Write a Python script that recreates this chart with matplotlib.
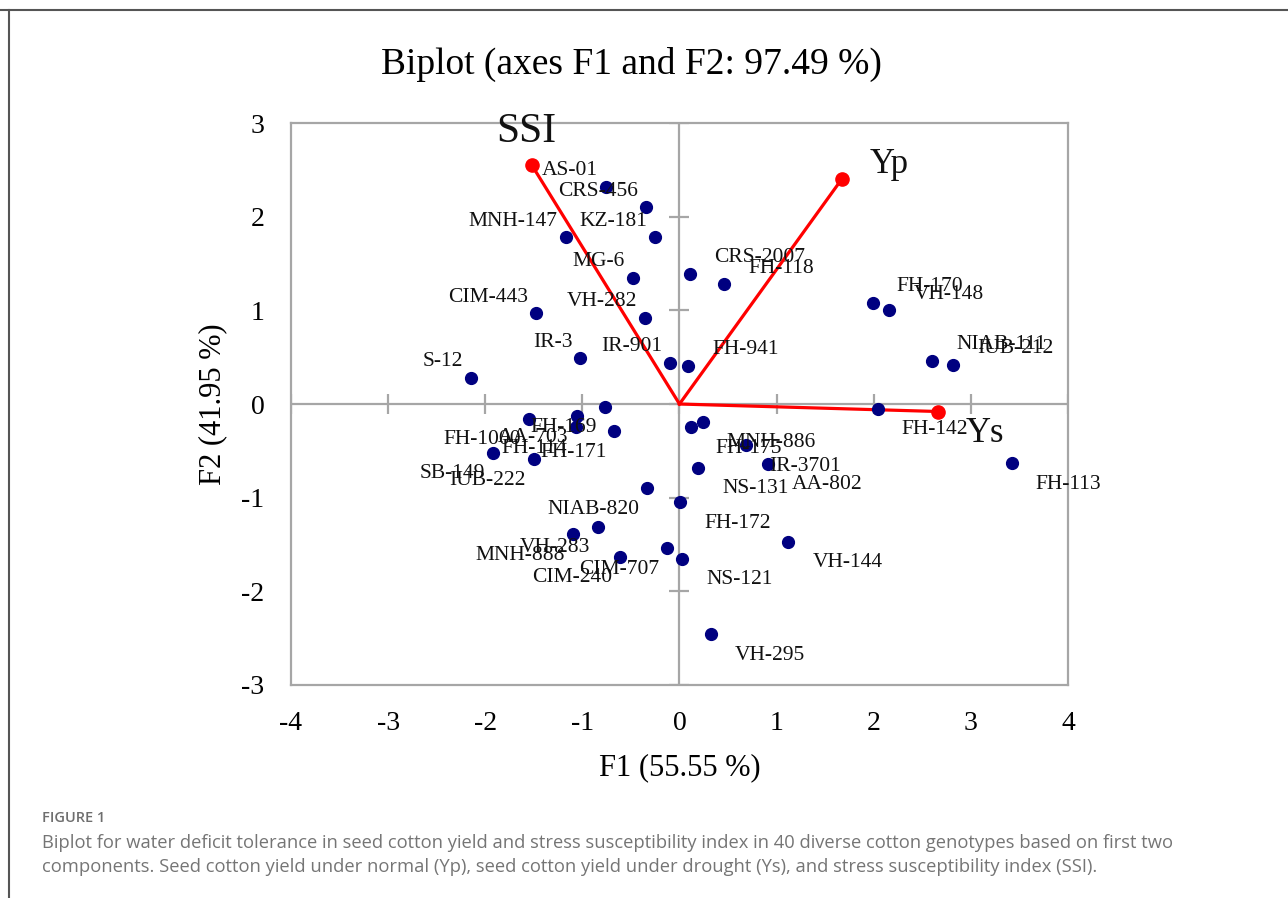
import matplotlib
matplotlib.use('Agg')
from matplotlib import pyplot as plt
from matplotlib.lines import Line2D

plt.rcParams['axes.unicode_minus'] = False

# genotype scores on F1 / F2
genotypes = ['AS-01', 'CRS-456', 'MNH-147', 'KZ-181', 'MG-6', 'CIM-443', 'VH-282',
             'IR-3', 'IR-901', 'S-12',
             'FH-941', 'CRS-2007', 'FH-118', 'FH-170', 'VH-148', 'NIAB-111', 'IUB-212',
             'FH-169', 'FH-171', 'AA-703', 'FH-114', 'FH-1000', 'SB-149', 'IUB-222',
             'NIAB-820', 'VH-283', 'MNH-888', 'CIM-707', 'CIM-240',
             'FH-172', 'NS-121', 'VH-295', 'VH-144', 'MNH-886', 'FH-175', 'IR-3701',
             'NS-131', 'AA-802', 'FH-142', 'FH-113']
f1 = [-0.76, -0.34, -1.17, -0.25, -0.48, -1.48, -0.35, -1.02, -0.10, -2.15,
      0.09, 0.11, 0.46, 1.99, 2.16, 2.60, 2.82,
      -0.77, -0.67, -1.06, -1.07, -1.55, -1.92, -1.50, -0.33, -0.84, -1.10, -0.13, -0.61,
      0.01, 0.03, 0.32, 1.12, 0.24, 0.12, 0.68, 0.19, 0.91, 2.04, 3.42]
f2 = [2.32, 2.10, 1.78, 1.78, 1.35, 0.97, 0.92, 0.49, 0.44, 0.28,
      0.41, 1.39, 1.28, 1.08, 1.00, 0.46, 0.42,
      -0.03, -0.29, -0.13, -0.25, -0.16, -0.52, -0.59, -0.90, -1.31, -1.39, -1.54, -1.63,
      -1.05, -1.65, -2.46, -1.47, -0.19, -0.25, -0.44, -0.68, -0.64, -0.05, -0.63]

# variable loadings (vectors)
variables = ['SSI', 'Yp', 'Ys']
var_f1 = [-1.52, 1.67, 2.66]
var_f2 = [2.55, 2.40, -0.08]

ticks = [-4, -3, -2, -1, 0, 1, 2, 3, 4]
yticks = [-3, -2, -1, 0, 1, 2, 3]

serif = ['Liberation Serif', 'DejaVu Serif']
gray = '#a6a6a6'

fig = plt.figure(figsize=(12.88, 8.98), dpi=100)
ax = fig.add_axes([0.2259, 0.2372, 0.6033, 0.6258])

# center lines with cross ticks
ax.axhline(0, color=gray, lw=1.6, zorder=1)
ax.axvline(0, color=gray, lw=1.6, zorder=1)
ax.plot(ticks, [0] * len(ticks), ls='none', marker='|', ms=15, mew=1.6, color=gray, zorder=1)
ax.plot([0] * len(yticks), yticks, ls='none', marker='_', ms=15, mew=1.6, color=gray, zorder=1)

# vectors
for name, vx, vy in zip(variables, var_f1, var_f2):
    ax.plot([0, vx], [0, vy], color='#ff0000', lw=2.3, zorder=2)
ax.plot(var_f1, var_f2, 'o', color='#ff0000', ms=9.5, zorder=3)

# genotype points
ax.plot(f1, f2, 'o', color='#000080', ms=8.5, zorder=4)

for name, x, y in zip(genotypes, f1, f2):
    if x < 0:
        dx, ha = -8, 'right'
    else:
        dx, ha = 24, 'left'
    dy = 16 if y >= 0 else -21
    ax.annotate(name, (x, y), xytext=(dx, dy), textcoords='offset pixels',
                ha=ha, va='center', fontsize=15.5, family=serif, color='#111111', zorder=5)

var_off = [(-6, 14, 'center', 'bottom', 30), (28, 15, 'left', 'center', 25),
           (28, -22, 'left', 'center', 25)]
for name, x, y, (dx, dy, ha, va, fs) in zip(variables, var_f1, var_f2, var_off):
    ax.annotate(name, (x, y), xytext=(dx, dy), textcoords='offset pixels',
                ha=ha, va=va, fontsize=fs, family=serif, color='#111111', zorder=5)

ax.set_xlim(-4, 4)
ax.set_ylim(-3, 3)
ax.set_xticks(ticks)
ax.set_yticks(yticks)
ax.tick_params(length=0, labelsize=20, pad=19)
for lab in ax.get_xticklabels() + ax.get_yticklabels():
    lab.set_family(serif)
for sp in ax.spines.values():
    sp.set_color(gray)
    sp.set_linewidth(1.6)

ax.set_xlabel('F1 (55.55 %)', fontsize=22, family=serif, labelpad=12)
ax.set_ylabel('F2 (41.95 %)', fontsize=22, family=serif, labelpad=10)
fig.text(0.49, 0.928, 'Biplot (axes F1 and F2: 97.49 %)', ha='center', va='center',
         fontsize=27, family=serif)

# page frame
fig.add_artist(Line2D([0, 1], [1 - 10 / 898, 1 - 10 / 898], transform=fig.transFigure,
                      color='#555555', lw=1.5))
fig.add_artist(Line2D([9 / 1288, 9 / 1288], [0, 1 - 10 / 898], transform=fig.transFigure,
                      color='#555555', lw=1.5))

# caption
fig.text(42 / 1288, 1 - 818 / 898, 'FIGURE 1', fontsize=10.5, family='Open Sans',
         color='#6e6e6e', va='center', fontweight='semibold')
fig.text(42 / 1288, 1 - 843 / 898,
         'Biplot for water deficit tolerance in seed cotton yield and stress susceptibility index in 40 diverse cotton genotypes based on first two',
         fontsize=13.2, family='Open Sans', color='#757575', va='center')
fig.text(42 / 1288, 1 - 867 / 898,
         'components. Seed cotton yield under normal (Yp), seed cotton yield under drought (Ys), and stress susceptibility index (SSI).',
         fontsize=13.2, family='Open Sans', color='#757575', va='center')

fig.savefig('out.png', dpi=100)
